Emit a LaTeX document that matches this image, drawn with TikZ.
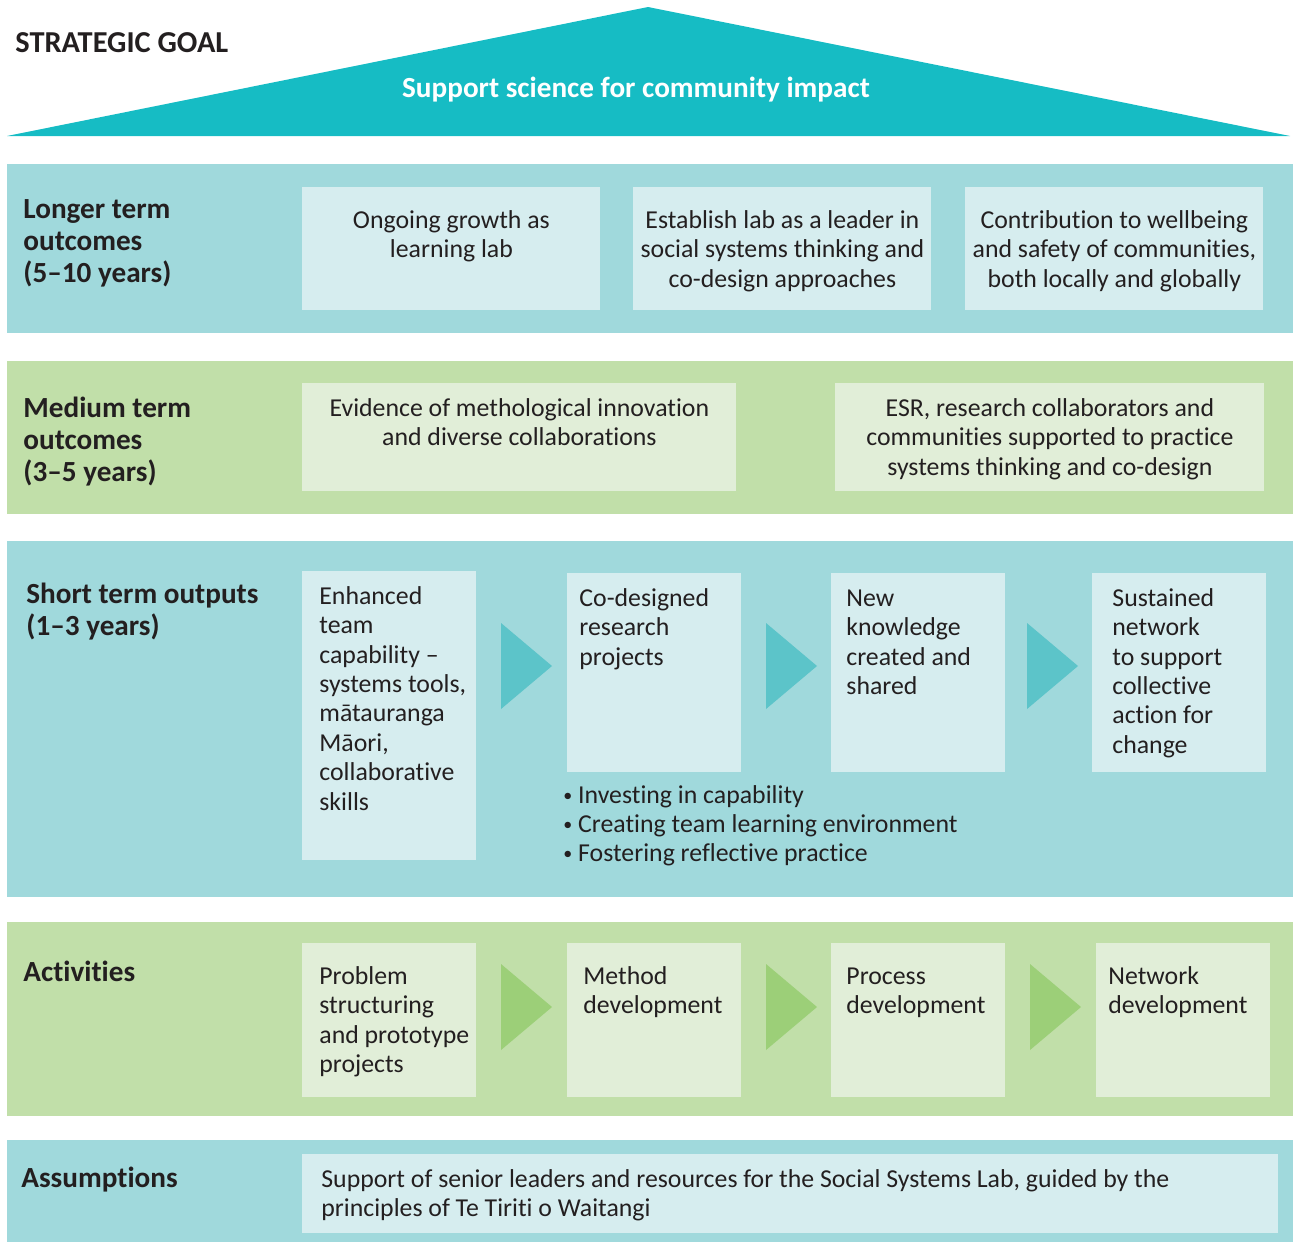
\documentclass[tikz,border=0pt]{standalone}
\usepackage{fontspec}
\setmainfont{Carlito}[Ligatures={TeX,NoCommon}]
\definecolor{goalteal}{RGB}{22,188,196}
\definecolor{tealband}{RGB}{160,217,220}
\definecolor{tealfill}{RGB}{214,237,239}
\definecolor{tealarrow}{RGB}{92,196,201}
\definecolor{greenband}{RGB}{193,223,169}
\definecolor{greenfill}{RGB}{225,238,216}
\definecolor{greenarrow}{RGB}{156,207,120}
\definecolor{ink}{RGB}{35,31,32}
\newcommand\bodyfont{\fontsize{12.9}{14.7}\selectfont}
\newcommand\headfont{\fontsize{14.6}{16}\selectfont\bfseries}
\newcommand\cellbox[5]{\parbox[c][#2][t]{#1}{#4\vspace*{#3}\strut#5}}
\newcommand\leftpad[1]{\raggedright\leftskip=#1\relax}
\newcommand\stack[1]{\parbox[t]{250pt}{\raggedright #1}}
\newcommand\dotitem{\raisebox{0.8pt}{\fontsize{9}{9}\selectfont\textbullet}\ }
\begin{document}
\begin{tikzpicture}[
  x=0.5pt, y=-0.5pt,
  every node/.style = {inner sep=0pt, text=ink},
  head/.style = {anchor=base west, font=\headfont},
  note/.style = {anchor=base west, font=\fontsize{12.9}{14.5}\selectfont},
  tealbox/.style = {anchor=north west, fill=tealfill, font=\bodyfont},
  greenbox/.style = {anchor=north west, fill=greenfill, font=\bodyfont},
  tealtip/.style = {fill=tealarrow},
  greentip/.style = {fill=greenarrow}
  ]
  \useasboundingbox (0,0) rectangle (1293,1242);
  \fill[goalteal] (7,136) -- (648,7) -- (1290,136) -- cycle;
  \fill[tealband] (7,164) rectangle (1293,333);
  \fill[greenband] (7,361) rectangle (1293,514);
  \fill[tealband] (7,541) rectangle (1293,897);
  \fill[greenband] (7,922) rectangle (1293,1116);
  \fill[tealband] (7,1140) rectangle (1293,1242);

  \node[head, font=\fontsize{15.2}{16}\selectfont\bfseries] (goallabel) at (15,52) {STRATEGIC GOAL};
  \node[head, anchor=base, text=white] (goal) at (636,97) {Support science for community impact};

  \node[head] (longer) at (23,218) {\stack{Longer term\\outcomes\\(5--10 years)}};
  \node[tealbox] (lt1) at (302,187) {\cellbox{149pt}{61.5pt}{10.2pt}{\centering}{Ongoing growth as\\learning lab}};
  \node[tealbox] (lt2) at (633,187) {\cellbox{149pt}{61.5pt}{10.2pt}{\centering}{Establish lab as a leader in\\social systems thinking and\\co-design approaches}};
  \node[tealbox] (lt3) at (965,187) {\cellbox{149pt}{61.5pt}{10.2pt}{\centering}{Contribution to wellbeing\\and safety of communities,\\both locally and globally}};

  \node[head] (medium) at (23,417) {\stack{Medium term\\outcomes\\(3--5 years)}};
  \node[greenbox] (mt1) at (302,383) {\cellbox{217pt}{54pt}{6.2pt}{\centering}{Evidence of methological innovation\\and diverse collaborations}};
  \node[greenbox] (mt2) at (835,383) {\cellbox{214.5pt}{54pt}{6.2pt}{\centering}{ESR, research collaborators and\\communities supported to practice\\systems thinking and co-design}};

  \node[head] (short) at (26,603) {\stack{Short term outputs\\(1--3 years)}};
  \node[tealbox] (st1) at (302,571) {\cellbox{87pt}{144.5pt}{6.2pt}{\leftpad{8.5pt}}{Enhanced\\team\\capability --\\systems tools,\\mātauranga\\Māori,\\collaborative\\skills}};
  \node[tealbox] (st2) at (567,573) {\cellbox{87pt}{99.5pt}{6.2pt}{\leftpad{6pt}}{Co-designed\\research\\projects}};
  \node[tealbox] (st3) at (831,573) {\cellbox{87pt}{99.5pt}{6.2pt}{\leftpad{7.5pt}}{New\\knowledge\\created and\\shared}};
  \node[tealbox] (st4) at (1092,573) {\cellbox{87pt}{99.5pt}{6.2pt}{\leftpad{10pt}}{Sustained\\network\\to support\\collective\\action for\\change}};
  \node[note] (practice) at (563,803) {\stack{\dotitem Investing in capability\\\dotitem Creating team learning environment\\\dotitem Fostering reflective practice}};
  \foreach \x in {501,766,1027}
    \fill[tealtip] (\x,623) -- ++(51,43) -- ++(-51,43) -- cycle;

  \node[head] (activities) at (23,981) {Activities};
  \node[greenbox] (ac1) at (302,943) {\cellbox{87pt}{77pt}{10.2pt}{\leftpad{8.5pt}}{Problem\\structuring\\and prototype\\projects}};
  \node[greenbox] (ac2) at (567,943) {\cellbox{87pt}{77pt}{10.2pt}{\leftpad{8pt}}{Method\\development}};
  \node[greenbox] (ac3) at (831,943) {\cellbox{87pt}{77pt}{10.2pt}{\leftpad{7.5pt}}{Process\\development}};
  \node[greenbox] (ac4) at (1096,943) {\cellbox{87pt}{77pt}{10.2pt}{\leftpad{6pt}}{Network\\development}};
  \foreach \x in {501,766,1030}
    \fill[greentip] (\x,964) -- ++(51,43) -- ++(-51,43) -- cycle;

  \node[head] (assumptions) at (21,1187) {Assumptions};
  \node[tealbox] (as1) at (302,1154) {\cellbox{488pt}{39.5pt}{6.2pt}{\leftpad{9.5pt}}{Support of senior leaders and resources for the Social Systems Lab, guided by the\\principles of Te Tiriti o Waitangi}};
\end{tikzpicture}
\end{document}
